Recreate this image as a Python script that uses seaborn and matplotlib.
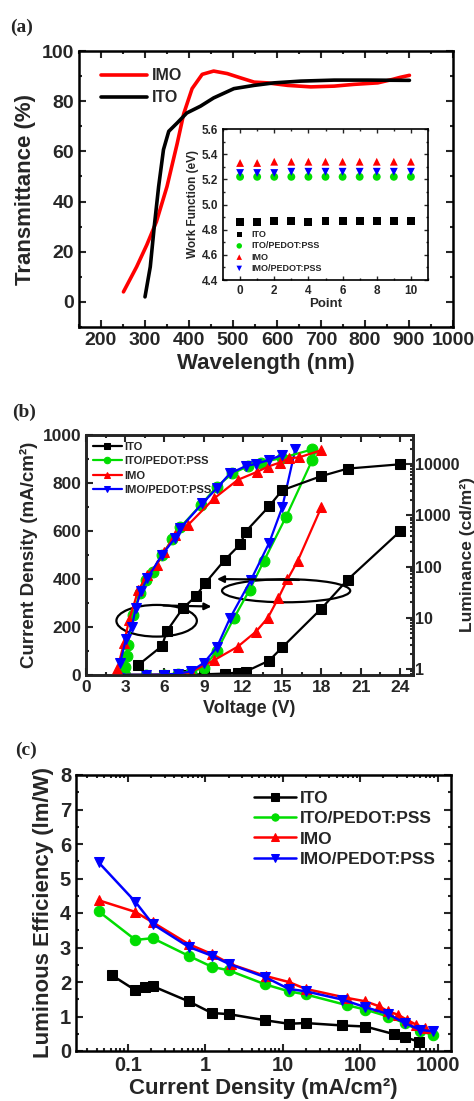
import matplotlib
matplotlib.use("Agg")
import matplotlib.pyplot as plt
import matplotlib.ticker as mticker
from matplotlib.patches import Ellipse
import seaborn as sns

# ---- (a) transmittance spectra
wl_imo = [251, 281, 304, 326, 350, 373, 388, 407, 430, 456, 487, 517, 548, 578,
          624, 677, 730, 775, 829, 863, 880, 901]
tr_imo = [4, 14, 22.7, 32, 46, 63, 75, 85, 90.7, 92, 91, 89.3, 87.6, 87.3,
          86.3, 85.7, 86, 86.7, 87.3, 88.7, 89.5, 90.3]
wl_ito = [300, 312, 321, 331, 342, 354, 373, 395, 426, 456, 502, 548, 593, 654,
          730, 806, 901]
tr_ito = [2, 14, 30, 46, 60.7, 68, 71.3, 75.3, 78, 81.3, 85, 86.3, 87.3, 88,
          88.4, 88.4, 88.3]

# inset: work function
points = list(range(11))
wf_ito = [4.86, 4.86, 4.87, 4.87, 4.86, 4.87, 4.87, 4.87, 4.87, 4.87, 4.87]
wf_ito_pedot = [5.22, 5.22, 5.22, 5.22, 5.22, 5.22, 5.22, 5.22, 5.22, 5.22, 5.22]
wf_imo = [5.33, 5.33, 5.34, 5.34, 5.34, 5.34, 5.34, 5.34, 5.34, 5.34, 5.34]
wf_imo_pedot = [5.25, 5.25, 5.25, 5.26, 5.26, 5.26, 5.26, 5.26, 5.26, 5.26, 5.26]

# ---- (b) J-V and L-V
v_j_ito = [6.0, 7.5, 9.0, 10.6, 11.6, 12.2, 14.0, 15.0, 18.0, 20.0, 24.0]
j_ito = [1, 2, 3, 6, 10, 14, 60, 115, 277, 397, 598]
v_j_ito_pedot = [3.0, 4.6, 6.0, 7.0, 8.0, 9.0, 10.0, 11.3, 12.5, 13.6, 15.3, 17.3]
j_ito_pedot = [1, 1, 2, 6, 14, 30, 100, 236, 354, 475, 660, 896]
v_j_imo = [2.5, 4.6, 6.0, 7.0, 8.0, 9.8, 11.6, 13.0, 13.9, 14.7, 15.4, 16.2, 18.0]
j_imo = [1, 1, 2, 5, 12, 62, 118, 181, 238, 320, 398, 477, 700]
v_j_imo_pedot = [2.7, 4.6, 6.0, 7.0, 8.0, 9.0, 10.0, 11.0, 12.6, 14.0, 15.0, 16.0]
j_imo_pedot = [1, 1, 2, 5, 15, 50, 115, 236, 395, 550, 698, 940]

v_l_ito = [4.0, 5.8, 6.2, 7.4, 8.4, 9.1, 10.6, 11.8, 12.2, 14.0, 15.0, 18.0, 20.0, 24.0]
l_ito = [1.2, 2.8, 5.6, 15.3, 26.3, 47, 134, 273, 478, 1500, 3085, 5830, 8150, 9890]
v_l_ito_pedot = [3.0, 3.1, 3.2, 3.6, 4.1, 4.6, 5.1, 5.8, 6.6, 7.2, 8.8, 10.0, 11.2,
                 12.4, 13.4, 15.0, 17.3]
l_ito_pedot = [1.1, 1.8, 3.0, 11.3, 30, 54, 79, 168, 338, 580, 1616, 3630, 6560,
               9080, 10670, 13240, 19300]
v_l_imo = [2.4, 2.9, 3.3, 4.0, 4.7, 5.4, 6.0, 6.8, 7.8, 9.8, 11.6, 13.1, 13.9, 14.8,
           15.5, 16.3, 18.0]
l_imo = [1.0, 3.2, 9.1, 34.8, 68.5, 109, 195, 411, 646, 2140, 4910, 7080, 8880,
         10670, 12950, 13520, 18700]
v_l_imo_pedot = [2.6, 3.05, 3.5, 3.8, 4.2, 4.7, 5.8, 6.8, 7.2, 8.9, 10.0, 11.0, 12.2,
                 13.0, 14.0, 15.0]
l_imo_pedot = [1.3, 3.8, 6.6, 15.3, 33, 59, 168, 357, 556, 1706, 3365, 6560, 9080,
               10110, 12020, 15070]

# ---- (c) luminous efficiency
jc_ito = [0.063, 0.126, 0.165, 0.21, 0.61, 1.22, 2.0, 5.96, 12.0, 19.8, 59, 117, 272, 376, 576]
le_ito = [2.19, 1.76, 1.86, 1.88, 1.44, 1.10, 1.07, 0.89, 0.79, 0.81, 0.74, 0.71, 0.49, 0.40, 0.27]
jc_ito_pedot = [0.042, 0.126, 0.21, 0.61, 1.22, 2.0, 5.96, 12.0, 19.8, 67, 117, 230, 376, 600, 877]
le_ito_pedot = [4.05, 3.22, 3.27, 2.76, 2.44, 2.34, 1.93, 1.73, 1.64, 1.33, 1.20, 1.00, 0.81, 0.57, 0.47]
jc_imo = [0.042, 0.126, 0.21, 0.61, 1.22, 2.17, 6.1, 12.0, 19.8, 67, 117, 174, 230, 309, 397, 532, 684]
le_imo = [4.37, 4.03, 3.73, 3.10, 2.81, 2.51, 2.17, 2.00, 1.80, 1.54, 1.44, 1.30, 1.15, 1.05, 0.91, 0.76, 0.66]
jc_imo_pedot = [0.042, 0.126, 0.21, 0.61, 1.22, 2.0, 5.96, 12.0, 19.8, 59, 117, 230, 376, 600, 877]
le_imo_pedot = [5.47, 4.32, 3.68, 3.02, 2.76, 2.53, 2.14, 1.80, 1.73, 1.49, 1.27, 1.07, 0.81, 0.61, 0.57]

labels = ["ITO", "ITO/PEDOT:PSS", "IMO", "IMO/PEDOT:PSS"]
colors = ["black", "#00dd00", "red", "blue"]
markers = ["s", "o", "^", "v"]

sns.set_style("ticks")
plt.rcParams["font.family"] = ["Liberation Sans", "DejaVu Sans"]
plt.rcParams["font.weight"] = "bold"
plt.rcParams["axes.labelweight"] = "bold"
plt.rcParams["axes.linewidth"] = 1.8

W, H = 474, 1101
fig = plt.figure(figsize=(W / 100, H / 100), dpi=100)


def box(l, r, t, b):
    return [l / W, 1 - b / H, (r - l) / W, (b - t) / H]


def style(ax, size, right=True, top=True, left=True):
    ax.tick_params(which="both", direction="in", top=top, right=right, left=left,
                   width=1.5, labelsize=size)
    ax.tick_params(which="major", length=5)
    ax.tick_params(which="minor", length=2.5)
    for s in ax.spines.values():
        s.set_linewidth(1.8)
        s.set_color("black")


# ----------------- panel (a)
ax = fig.add_axes(box(79, 453, 51, 327))
sns.lineplot(x=wl_imo, y=tr_imo, ax=ax, color="red", linewidth=2.6, sort=False,
             estimator=None, label="IMO")
sns.lineplot(x=wl_ito, y=tr_ito, ax=ax, color="black", linewidth=2.6, sort=False,
             estimator=None, label="ITO")
ax.set_xlim(150, 1000)
ax.set_ylim(-10, 100)
ax.xaxis.set_minor_locator(mticker.MultipleLocator(50))
ax.yaxis.set_minor_locator(mticker.MultipleLocator(10))
ax.set_xticks(range(200, 1001, 100))
ax.set_yticks(range(0, 101, 20))
style(ax, 14)
ax.set_xlabel("Wavelength (nm)", fontsize=16, labelpad=3)
ax.set_ylabel("Transmittance (%)", fontsize=16, labelpad=4)
ax.legend(loc="upper left", bbox_to_anchor=(0.02, 0.99), frameon=False, fontsize=11.5,
          handlelength=2.9, handletextpad=0.3, labelspacing=0.45)
fig.text(10 / W, 1 - 32 / H, "(a)", fontsize=14, fontweight="bold",
         family="Liberation Serif")

# inset
axi = fig.add_axes(box(223, 428, 129, 280))
wf = [wf_ito, wf_ito_pedot, wf_imo, wf_imo_pedot]
for vals, lab, c, m in zip(wf, labels, colors, markers):
    sns.scatterplot(x=points, y=vals, ax=axi, color=c, marker=m, s=32,
                    edgecolor="none", label=lab)
axi.set_xlim(-1, 11)
axi.set_ylim(4.4, 5.6)
axi.xaxis.set_major_locator(mticker.MultipleLocator(2))
axi.xaxis.set_minor_locator(mticker.MultipleLocator(1))
axi.yaxis.set_major_locator(mticker.MultipleLocator(0.2))
axi.yaxis.set_minor_locator(mticker.MultipleLocator(0.1))
axi.yaxis.set_major_formatter(mticker.FormatStrFormatter("%.1f"))
style(axi, 8.5)
for s in axi.spines.values():
    s.set_linewidth(1.2)
axi.tick_params(which="major", length=3, width=1)
axi.tick_params(which="minor", length=1.5, width=1)
axi.set_xlabel("Point", fontsize=9.5, labelpad=1)
axi.set_ylabel("Work Function (eV)", fontsize=8.5, labelpad=2)
axi.legend(loc="lower left", frameon=False, fontsize=6.5, handletextpad=0.3,
           labelspacing=0.25, markerscale=0.7, borderaxespad=0.4)

# ----------------- panel (b)
axb = fig.add_axes(box(86, 413, 435, 675))
jv = [(v_j_ito, j_ito), (v_j_ito_pedot, j_ito_pedot), (v_j_imo, j_imo),
      (v_j_imo_pedot, j_imo_pedot)]
for (vx, jy), c, m in zip(jv, colors, markers):
    sns.lineplot(x=vx, y=jy, ax=axb, color=c, marker=m, markersize=7.8,
                 markeredgecolor=c, linewidth=1.6, estimator=None)
axb.set_xlim(0, 25)
axb.set_ylim(0, 1000)
axb.xaxis.set_major_locator(mticker.MultipleLocator(3))
axb.xaxis.set_minor_locator(mticker.MultipleLocator(1.5))
axb.yaxis.set_major_locator(mticker.MultipleLocator(200))
axb.yaxis.set_minor_locator(mticker.MultipleLocator(100))
style(axb, 12.5, right=False)
axb.set_xlabel("Voltage (V)", fontsize=13, labelpad=4)
axb.set_ylabel("Current Density (mA/cm²)", fontsize=13.5, labelpad=3)

axb2 = axb.twinx()
lv = [(v_l_ito, l_ito), (v_l_ito_pedot, l_ito_pedot), (v_l_imo, l_imo),
      (v_l_imo_pedot, l_imo_pedot)]
for (vx, ly), lab, c, m in zip(lv, labels, colors, markers):
    sns.lineplot(x=vx, y=ly, ax=axb2, color=c, marker=m, markersize=7.8,
                 markeredgecolor=c, linewidth=1.6, estimator=None, label=lab)
axb2.set_yscale("log")
axb2.set_ylim(0.764, 36900)
axb2.yaxis.set_major_formatter(mticker.FuncFormatter(lambda v, p: f"{v:g}"))
axb2.tick_params(which="both", direction="in", width=1.5, labelsize=11.5, pad=1.5)
axb2.tick_params(which="major", length=5)
axb2.tick_params(which="minor", length=2.5)
axb2.set_ylabel("Luminance (cd/m²)", fontsize=12.5, labelpad=0)
axb2.legend(loc="upper left", frameon=False, fontsize=8, handlelength=2.6,
            handletextpad=0.2, labelspacing=0.4, markerscale=0.6,
            borderaxespad=0.2)

# ellipses and arrows
axb.add_patch(Ellipse((5.4, 226), 6.15, 132, fill=False, lw=1.6, color="black"))
axb.add_patch(Ellipse((15.3, 351), 9.8, 96, fill=False, lw=1.6, color="black"))
axb.annotate("", xy=(9.8, 285), xytext=(5.7, 290),
             arrowprops=dict(arrowstyle="-|>", color="black", lw=1.6))
axb.annotate("", xy=(9.8, 400), xytext=(16.5, 396),
             arrowprops=dict(arrowstyle="-|>", color="black", lw=1.6))
fig.text(12 / W, 1 - 417 / H, "(b)", fontsize=14, fontweight="bold",
         family="Liberation Serif")

# ----------------- panel (c)
axc = fig.add_axes(box(76, 451, 775, 1051))
le = [(jc_ito, le_ito), (jc_ito_pedot, le_ito_pedot), (jc_imo, le_imo),
      (jc_imo_pedot, le_imo_pedot)]
for (jx, ey), lab, c, m in zip(le, labels, colors, markers):
    sns.lineplot(x=jx, y=ey, ax=axc, color=c, marker=m, markersize=7.5,
                 markeredgecolor=c, linewidth=1.8, estimator=None, label=lab)
axc.set_xscale("log")
axc.set_xlim(0.0215, 1490)
axc.set_ylim(0, 8)
axc.set_xticks([0.1, 1, 10, 100, 1000])
axc.xaxis.set_major_formatter(mticker.FuncFormatter(lambda v, p: f"{v:g}"))
axc.yaxis.set_major_locator(mticker.MultipleLocator(1))
axc.yaxis.set_minor_locator(mticker.MultipleLocator(0.5))
style(axc, 14.5)
axc.set_xlabel("Current Density (mA/cm²)", fontsize=16, labelpad=2)
axc.set_ylabel("Luminous Efficiency (lm/W)", fontsize=16, labelpad=4)
axc.legend(loc="upper right", frameon=False, fontsize=12.5, handlelength=2.4,
           handletextpad=0.2, labelspacing=0.3, markerscale=0.7,
           bbox_to_anchor=(1.0, 1.0))
fig.text(15 / W, 1 - 755 / H, "(c)", fontsize=14, fontweight="bold",
         family="Liberation Serif")

fig.savefig("out.png", dpi=100)
